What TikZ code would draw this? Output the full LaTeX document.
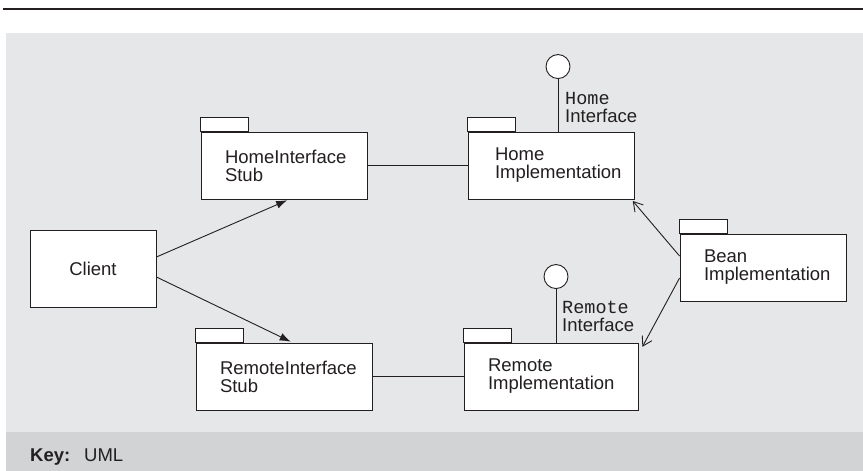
\documentclass[tikz,border=0pt]{standalone}
\usepackage{fontspec}
\setmainfont{Liberation Sans}
\setmonofont{Liberation Mono}
\usetikzlibrary{arrows.meta,positioning}

\definecolor{panel}{HTML}{E6E7E8}
\definecolor{keyband}{HTML}{D1D3D4}
\definecolor{ink}{HTML}{231F20}

\tikzset{
  pkg/.style={draw=ink, fill=white, line width=0.9pt, minimum width=166pt,
    minimum height=67pt, text width=118pt, inner xsep=24pt, inner ysep=0pt, align=left},
  pkgtab/.style={draw=ink, fill=white, line width=0.9pt},
  iface/.style={circle, draw=ink, fill=white, line width=0.9pt, minimum size=24pt, inner sep=0pt},
  ifacelabel/.style={anchor=south west, inner sep=0pt, align=left},
  wire/.style={draw=ink, line width=0.9pt},
  call/.style={wire, shorten >=2pt, -{Latex[length=11pt,width=8pt]}},
  realize/.style={wire, shorten >=2pt, -{Straight Barb[length=9pt,width=11pt]}},
}

\begin{document}
\begin{tikzpicture}
[x=1pt,y=1pt,node distance=100pt,on grid,
 every node/.style={font=\fontsize{18.5}{18}\selectfont, text=ink}]
      % page and panels
      \fill[white] (0,0) rectangle (863,471);
      \useasboundingbox (0,0) rectangle (863,471);
      \fill[panel] (6,39) rectangle (863,438);
      \fill[keyband] (6,0) rectangle (863,39);
      \draw[ink, line width=1.3pt] (3,462) -- (863,462);

      \node[wire, fill=white, minimum width=126pt, minimum height=77pt] (client) at (93,202.5) {Client};
      \node[pkg] (hstub) [above right=103pt and 191pt of client] {HomeInterface\\Stub};
      \node[pkg, text width=128pt] (rstub) [below=211pt of hstub] {RemoteInterface\\Stub};
      \node[pkg, text width=112pt] (himpl) [right=267pt of hstub] {Home\\Implementation};
      \node[pkg, text width=126pt] (rimpl) [right=267pt of rstub] {Remote\\Implementation};
      \node[pkg] (bean) [below right=102pt and 212pt of himpl] {Bean\\Implementation};

      \foreach \p in {hstub,rstub,himpl,rimpl,bean}
        \draw[pkgtab] (\p.north west) rectangle ++(48,14);

      % provided interfaces
      \node[iface] (hface) at ([shift={(7pt,65pt)}]himpl.north) {};
      \coordinate (hfoot) at (hface |- himpl.north);
      \node[iface] (rface) at ([shift={(5pt,66pt)}]rimpl.north) {};
      \coordinate (rfoot) at (rface |- rimpl.north);
      \draw[wire] (hface) -- (hfoot);
      \draw[wire] (rface) -- (rfoot);
      \node[ifacelabel] (hlabel) at ([shift={(7pt,9pt)}]hfoot) {\texttt{Home}\\Interface};
      \node[ifacelabel] (rlabel) at ([shift={(6pt,11pt)}]rfoot) {\texttt{Remote}\\Interface};

      \path
      (hstub) edge[wire] (himpl)
      (rstub) edge[wire] (rimpl)
      ([yshift=11.5pt]client.east) edge[call] ([xshift=5pt]hstub.south)
      ([yshift=-8.5pt]client.east) edge[call] ([xshift=8.5pt]rstub.north)
      ([yshift=11.5pt]bean.west) edge[realize] ([xshift=-3pt]himpl.south east)
      ([yshift=-10.5pt]bean.west) edge[realize] ([shift={(3pt,-6pt)}]rimpl.north east)
      ;

      \node[anchor=base west, inner sep=0pt] (key) at (30,9.5) {\textbf{Key:}\hspace{0.75em}UML};
\end{tikzpicture}
\end{document}
